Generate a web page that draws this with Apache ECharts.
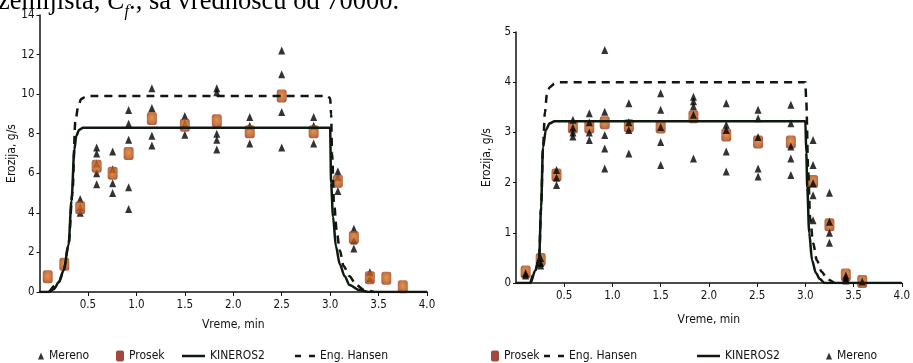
<!DOCTYPE html>
<html>
<head>
<meta charset="utf-8">
<script src="https://cdn.jsdelivr.net/npm/echarts@6/dist/echarts.min.js"></script>
<style>
html,body{margin:0;padding:0;background:#fff;}
#chart{width:913px;height:363px;}
</style>
</head>
<body>
<div id="chart"></div>
<script>
// ---------- DATA ----------
const xTicks = [0.5, 1.0, 1.5, 2.0, 2.5, 3.0, 3.5, 4.0];

// Left chart
const prosekTL = [0.085, 0.256, 0.42, 0.59, 0.755, 0.92, 1.16, 1.5, 1.83, 2.17, 2.5, 2.83, 3.08, 3.245, 3.41, 3.58, 3.75];
const prosekVL = [0.77, 1.4, 4.26, 6.36, 6.0, 7.0, 8.77, 8.43, 8.65, 8.1, 9.9, 8.1, 5.6, 2.76, 0.72, 0.69, 0.27];
const merenoTL = [0.42, 0.59, 0.755, 0.92, 1.16, 1.5, 1.83, 2.17, 2.5, 2.83, 3.08, 3.245, 3.41];
const merenoVL = [
  [4.7, 4.3, 4.0],
  [7.3, 7.0, 6.5, 6.0, 5.45],
  [7.1, 6.2, 5.5, 5.0],
  [9.2, 8.5, 7.7, 5.3, 4.2],
  [10.3, 9.3, 7.9, 7.4],
  [8.9, 8.5, 7.95],
  [10.3, 10.1, 8.0, 7.7, 7.2],
  [8.85, 8.4, 7.5],
  [12.2, 11.0, 9.1, 7.3],
  [8.85, 8.4, 7.5],
  [6.1, 5.8, 5.1],
  [3.2, 2.6, 2.2],
  [1.0, 0.7]
];
const kinTL = [0, 0.1, 0.15, 0.2, 0.25, 0.3, 0.33, 0.36, 0.38, 0.41, 0.45, 0.5, 3.0, 3.01, 3.03, 3.06, 3.1, 3.15, 3.2, 3.3, 3.4, 4.0];
const kinVL = [0, 0, 0.15, 0.5, 1.1, 2.4, 4.6, 7.2, 7.9, 8.2, 8.3, 8.3, 8.3, 5.5, 3.8, 2.3, 1.4, 0.8, 0.35, 0.1, 0, 0];
const hanTL = [0.1, 0.2, 0.25, 0.3, 0.34, 0.37, 0.4, 0.43, 0.47, 0.52, 2.97, 3.0, 3.01, 3.02, 3.04, 3.07, 3.1, 3.14, 3.2, 3.27, 3.35, 3.45];
const hanVL = [0, 0.5, 1.1, 2.4, 5.0, 8.6, 9.4, 9.75, 9.85, 9.9, 9.9, 9.8, 9.0, 7.0, 4.5, 3.0, 2.1, 1.3, 0.8, 0.35, 0.1, 0];

// Right chart
const prosekTR = [0.10, 0.256, 0.42, 0.59, 0.76, 0.92, 1.17, 1.5, 1.84, 2.18, 2.51, 2.85, 3.08, 3.25, 3.42, 3.59];
const prosekVR = [0.22, 0.47, 2.15, 3.11, 3.11, 3.19, 3.13, 3.11, 3.31, 2.95, 2.81, 2.81, 2.02, 1.16, 0.16, 0.03];
const merenoTR = [0.10, 0.256, 0.42, 0.59, 0.76, 0.92, 1.17, 1.5, 1.84, 2.18, 2.51, 2.85, 3.08, 3.25, 3.42, 3.59];
const merenoVR = [
  [0.2, 0.15],
  [0.5, 0.4, 0.35],
  [2.25, 2.1, 1.95],
  [3.25, 3.1, 3.0, 2.92],
  [3.38, 3.2, 3.0, 2.85],
  [4.64, 3.41, 2.95, 2.68, 2.28],
  [3.58, 3.2, 3.05, 2.58],
  [3.78, 3.45, 3.11, 2.81, 2.35],
  [3.71, 3.62, 3.52, 3.35, 2.48],
  [3.58, 3.15, 3.05, 2.62, 2.22],
  [3.45, 3.28, 2.91, 2.28, 2.12],
  [3.55, 3.18, 2.72, 2.48, 2.15],
  [2.85, 2.35, 1.99, 1.75, 1.25],
  [1.8, 1.22, 1.0, 0.8],
  [0.15, 0.1, 0.05],
  [0.03]
];
const kinTR = [0, 0.15, 0.2, 0.24, 0.26, 0.28, 0.31, 0.35, 0.4, 3.0, 3.01, 3.02, 3.04, 3.07, 3.11, 3.15, 3.2, 4.0];
const kinVR = [0, 0, 0.25, 0.5, 1.5, 2.7, 3.05, 3.18, 3.22, 3.22, 2.6, 1.9, 1.0, 0.45, 0.2, 0.08, 0, 0];
const hanTR = [0.15, 0.2, 0.24, 0.26, 0.28, 0.3, 0.32, 0.35, 0.4, 0.45, 3.0, 3.01, 3.03, 3.05, 3.08, 3.12, 3.17, 3.23, 3.3];
const hanVR = [0, 0.25, 0.5, 1.5, 2.7, 3.4, 3.75, 3.9, 3.97, 4.0, 4.0, 3.6, 2.2, 1.3, 0.8, 0.45, 0.22, 0.07, 0];

// ---------- BUILD ----------
const zip = (a, b) => a.map((t, i) => [t, b[i]]);
const flatten = (ts, vs) => { const out = []; ts.forEach((t, i) => vs[i].forEach(v => out.push([t, v]))); return out; };

const FONT = "'DejaVu Sans Condensed', 'Liberation Sans Narrow', sans-serif";
const LINE = '#0f180f';
const prosekColor = {
  type: 'radial', x: 0.5, y: 0.45, r: 0.7,
  colorStops: [{offset: 0, color: '#dc7a22'}, {offset: 0.55, color: '#b8541a'}, {offset: 1, color: '#85260c'}]
};

function xAxis(gi, nameGap) {
  return {
    type: 'value', gridIndex: gi, min: 0, max: 4, interval: 0.5,
    name: 'Vreme, min', nameLocation: 'middle', nameGap: nameGap,
    nameTextStyle: {fontFamily: FONT, fontSize: 12, color: '#111'},
    axisLine: {show: true, lineStyle: {color: '#111', width: 1.5}},
    axisTick: {show: true, length: 4, lineStyle: {color: '#111'}},
    axisLabel: {showMinLabel: false, fontFamily: FONT, fontSize: 11.5, color: '#111', margin: 7,
      formatter: v => (xTicks.indexOf(v) >= 0 ? v.toFixed(1) : '')},
    splitLine: {show: false}
  };
}
function yAxis(gi, max, interval, nameGap) {
  return {
    type: 'value', gridIndex: gi, min: 0, max: max, interval: interval,
    name: 'Erozija, g/s', nameLocation: 'middle', nameGap: nameGap, nameRotate: 90,
    nameTextStyle: {fontFamily: FONT, fontSize: 12, color: '#111'},
    axisLine: {show: true, lineStyle: {color: '#111', width: 1.5}},
    axisTick: {show: true, length: 3, lineStyle: {color: '#111'}},
    axisLabel: {fontFamily: FONT, fontSize: 11.5, color: '#111', margin: 5},
    splitLine: {show: false}
  };
}
function merenoSeries(gi, data) {
  return {name: 'Mereno', type: 'scatter', xAxisIndex: gi, yAxisIndex: gi, data: data,
    symbol: 'triangle', symbolSize: [7, 8], itemStyle: {color: '#000'}};
}
function prosekSeries(gi, data) {
  return {name: 'Prosek', type: 'scatter', xAxisIndex: gi, yAxisIndex: gi, data: data,
    symbol: 'roundRect', symbolSize: [10, 13], itemStyle: {color: prosekColor}};
}
function kinSeries(gi, data) {
  return {name: 'KINEROS2', type: 'line', xAxisIndex: gi, yAxisIndex: gi, data: data,
    symbol: 'none', smooth: 0.3, smoothMonotone: 'x', lineStyle: {color: LINE, width: 2.5}, itemStyle: {color: LINE}};
}
function hanSeries(gi, data) {
  return {name: 'Eng. Hansen', type: 'line', xAxisIndex: gi, yAxisIndex: gi, data: data,
    symbol: 'none', smooth: 0.3, smoothMonotone: 'x', lineStyle: {color: LINE, width: 2.5, type: [8, 6]}, itemStyle: {color: LINE}};
}

const TOP = 350;
function leg(name, left, kind) {
  const base = {left: left, top: TOP, padding: 0, orient: 'horizontal', selectedMode: false, itemGap: 0,
    textStyle: {fontFamily: FONT, fontSize: 12, color: '#111'}};
  if (kind === 'tri') { base.data = [{name: name, icon: 'triangle', itemStyle: {color: '#000'}}]; base.itemWidth = 6; base.itemHeight = 7; }
  if (kind === 'sq') { base.data = [{name: name, icon: 'roundRect', itemStyle: {color: '#8a1c0c'}}]; base.itemWidth = 8; base.itemHeight = 11; }
  if (kind === 'line') { base.data = [{name: name, icon: 'path://M0,0H23V2.5H0Z', itemStyle: {color: LINE, borderWidth: 0}}]; base.itemWidth = 23; base.itemHeight = 2.5; }
  if (kind === 'dash') { base.data = [{name: name, icon: 'path://M0,0H6V2.5H0Z M14,0H20V2.5H14Z', itemStyle: {color: LINE, borderWidth: 0}}]; base.itemWidth = 20; base.itemHeight = 2.5; }
  return base;
}

const chart = echarts.init(document.getElementById('chart'), null, {renderer: 'canvas'});
chart.setOption({
  animation: false,
  backgroundColor: '#fff',
  graphic: [{
    type: 'text', left: -2, top: -11,
    style: {
      text: 'zemljišta, {i|C}{s|f}., sa vrednošću od 70000.',
      font: "26.5px 'Liberation Serif', 'DejaVu Serif', serif",
      fill: '#000',
      rich: {
        i: {font: "italic 26.5px 'Liberation Serif', serif", fill: '#000'},
        s: {font: "italic 16px 'Liberation Serif', serif", fill: '#000', verticalAlign: 'bottom', padding: [0, 0, -4, 0]}
      }
    }
  }],
  grid: [
    {left: 39.5, right: 486, top: 15, bottom: 71},
    {left: 516, right: 7, top: 32, bottom: 80}
  ],
  xAxis: [xAxis(0, 27), xAxis(1, 31)],
  yAxis: [yAxis(0, 14, 2, 21), yAxis(1, 5, 1, 23)],
  legend: [
    leg('Mereno', 38, 'tri'),
    leg('Prosek', 116, 'sq'),
    leg('KINEROS2', 182, 'line'),
    leg('Eng. Hansen', 295, 'dash'),
    leg('Prosek', 491, 'sq'),
    leg('Eng. Hansen', 544, 'dash'),
    leg('KINEROS2', 697, 'line'),
    leg('Mereno', 826, 'tri')
  ],
  series: [
    merenoSeries(0, flatten(merenoTL, merenoVL)),
    prosekSeries(0, zip(prosekTL, prosekVL)),
    kinSeries(0, zip(kinTL, kinVL)),
    hanSeries(0, zip(hanTL, hanVL)),
    prosekSeries(1, zip(prosekTR, prosekVR)),
    hanSeries(1, zip(hanTR, hanVR)),
    kinSeries(1, zip(kinTR, kinVR)),
    merenoSeries(1, flatten(merenoTR, merenoVR))
  ]
});
</script>
</body>
</html>
